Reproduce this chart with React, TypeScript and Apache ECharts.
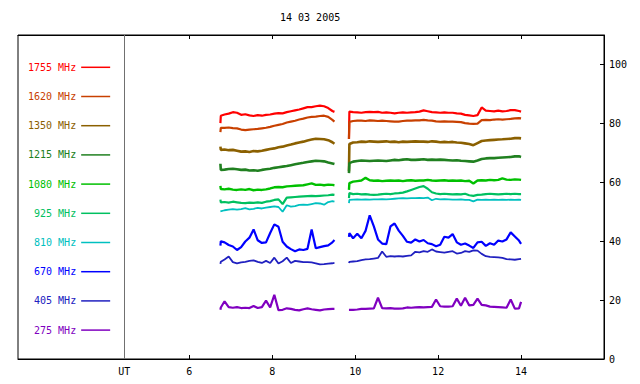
import React, { useEffect, useRef } from "react";
import * as echarts from "echarts";

const FONT = "DejaVu Sans Mono";
const chartTitle = "14 03 2005";
const utLabel = "UT";
const utPosition = 4.434;
const hourTicks = [6, 8, 10, 12, 14];
const valueTicks = [0, 20, 40, 60, 80, 100];

// time (hours UT) of the samples, morning and afternoon segments
const tA = [6.75, 6.76, 6.85, 6.95, 7.05, 7.15, 7.25, 7.35, 7.45, 7.55, 7.65, 7.75, 7.85, 7.95, 8.05, 8.15, 8.25, 8.35, 8.45, 8.55, 8.65, 8.75, 8.85, 8.95, 9.05, 9.15, 9.25, 9.35, 9.45, 9.5];
const gapTime = 9.7;
const tB = [9.85, 9.86, 9.95, 10.05, 10.15, 10.25, 10.35, 10.45, 10.55, 10.65, 10.75, 10.85, 10.95, 11.05, 11.15, 11.25, 11.35, 11.45, 11.55, 11.65, 11.75, 11.85, 11.95, 12.05, 12.15, 12.25, 12.35, 12.45, 12.55, 12.65, 12.75, 12.85, 12.95, 13.05, 13.15, 13.25, 13.35, 13.45, 13.55, 13.65, 13.75, 13.85, 13.95, 14.0];

const freqNames = ["1755 MHz", "1620 MHz", "1350 MHz", "1215 MHz", "1080 MHz", "925 MHz", "810 MHz", "670 MHz", "405 MHz", "275 MHz"];

const f1755A = [80.1, 82.6, 83.0, 83.3, 83.8, 83.6, 82.9, 83.1, 82.7, 82.5,
  82.8, 82.6, 82.9, 83.0, 83.3, 83.5, 83.4, 83.8, 84.1, 84.4,
  84.7, 85.1, 85.5, 85.5, 85.8, 86.0, 85.8, 85.2, 84.2, 83.9];
const f1755B = [74.7, 84.0, 83.8, 83.7, 83.6, 83.8, 83.9, 83.8, 83.9, 83.6,
  83.7, 83.6, 83.4, 83.6, 83.7, 83.6, 83.7, 83.8, 84.0, 84.4,
  84.1, 83.8, 83.7, 83.6, 83.7, 83.6, 83.6, 83.4, 83.3, 82.9,
  82.7, 82.5, 82.8, 85.4, 84.3, 84.2, 84.1, 84.3, 84.1, 84.2,
  84.5, 84.5, 84.2, 84.0];

const f1620A = [77.0, 78.5, 78.5, 78.6, 78.4, 78.3, 77.9, 77.7, 77.9, 78.0,
  78.1, 78.3, 78.5, 78.8, 79.2, 79.5, 79.8, 80.3, 80.6, 80.9,
  81.3, 81.6, 82.0, 82.2, 82.3, 82.5, 82.6, 82.2, 81.2, 80.6];
const f1620B = [74.7, 80.5, 80.8, 80.9, 80.9, 80.8, 81.0, 80.9, 80.8, 80.9,
  80.8, 80.7, 80.6, 80.6, 80.8, 80.9, 80.9, 81.0, 81.0, 81.2,
  81.0, 80.9, 80.7, 80.6, 80.7, 80.6, 80.6, 80.5, 80.4, 80.1,
  79.9, 79.8, 79.9, 81.1, 81.2, 81.1, 81.3, 81.4, 81.3, 81.4,
  81.5, 81.7, 81.8, 81.7];

const f1350A = [72.1, 71.0, 71.1, 70.9, 71.0, 70.7, 70.4, 70.5, 70.3, 70.6,
  70.5, 70.7, 71.0, 71.3, 71.5, 71.9, 72.1, 72.5, 72.8, 73.2,
  73.5, 73.8, 74.2, 74.5, 74.8, 74.7, 74.6, 74.3, 73.6, 73.1];
const f1350B = [63.7, 73.0, 73.5, 73.6, 73.8, 73.7, 73.9, 73.8, 73.7, 73.8,
  73.9, 73.7, 73.8, 73.6, 73.8, 73.7, 73.8, 73.9, 73.8, 73.8,
  73.7, 73.9, 73.8, 73.6, 73.7, 73.6, 73.7, 73.5, 73.4, 73.2,
  73.0, 72.6, 73.3, 74.0, 74.2, 74.3, 74.4, 74.5, 74.6, 74.7,
  74.8, 75.0, 75.0, 74.9];

const f1215A = [66.3, 64.2, 64.3, 64.5, 64.6, 64.4, 64.2, 64.3, 64.0, 64.1,
  63.9, 64.2, 64.4, 64.6, 64.9, 65.1, 65.3, 65.5, 65.8, 66.1,
  66.4, 66.6, 66.9, 67.1, 67.3, 67.2, 67.1, 66.7, 66.4, 66.2];
const f1215B = [63.1, 66.5, 67.0, 67.2, 67.4, 67.3, 67.2, 67.3, 67.4, 67.3,
  67.2, 67.4, 67.6, 67.5, 67.7, 67.8, 67.6, 67.6, 67.7, 67.8,
  67.6, 67.7, 67.6, 67.7, 67.6, 67.5, 67.4, 67.5, 67.3, 67.2,
  67.1, 67.0, 67.4, 67.9, 68.1, 68.2, 68.2, 68.3, 68.4, 68.5,
  68.6, 68.8, 68.8, 68.6];

const f1080A = [58.8, 57.7, 57.6, 57.8, 57.5, 57.4, 57.6, 57.4, 57.7, 57.3,
  57.5, 57.4, 57.6, 57.9, 58.3, 58.4, 58.3, 58.6, 58.7, 58.8,
  58.9, 59.0, 59.3, 59.6, 59.1, 59.2, 59.0, 59.2, 59.1, 59.0];
const f1080B = [57.4, 59.7, 60.2, 60.4, 60.6, 61.5, 60.7, 60.5, 60.6, 60.4,
  60.5, 60.6, 60.5, 60.6, 60.4, 60.6, 60.7, 60.5, 60.6, 60.6,
  60.8, 60.6, 60.5, 60.6, 60.7, 60.5, 60.6, 60.5, 60.6, 60.4,
  60.5, 59.6, 60.6, 60.7, 60.6, 60.8, 60.7, 60.8, 61.3, 60.9,
  60.8, 61.0, 60.9, 60.8];

const f925A = [54.1, 53.2, 53.3, 53.1, 53.4, 53.2, 53.0, 52.9, 53.1, 53.0,
  53.2, 53.0, 53.4, 53.6, 54.0, 54.2, 52.6, 54.8, 54.9, 55.0,
  55.1, 55.2, 55.3, 55.4, 55.3, 55.4, 55.5, 55.6, 55.8, 55.7];
const f925B = [54.6, 56.3, 56.0, 56.1, 55.9, 56.0, 55.8, 55.7, 55.8, 56.0,
  56.1, 56.0, 56.2, 56.3, 56.5, 56.9, 57.4, 57.9, 58.4, 58.7,
  57.8, 56.6, 56.2, 56.0, 56.1, 56.0, 55.9, 56.0, 55.9, 56.1,
  55.6, 55.4, 55.7, 55.8, 56.0, 56.1, 56.0, 55.9, 56.0, 56.1,
  56.0, 56.1, 56.0, 56.0];

const f810A = [50.1, 50.1, 50.5, 50.7, 50.9, 50.7, 50.9, 51.2, 50.8, 51.0,
  51.3, 51.1, 51.4, 51.6, 51.8, 51.6, 50.0, 52.2, 51.7, 51.9,
  52.3, 52.4, 52.3, 52.6, 52.9, 52.8, 52.4, 53.3, 53.6, 53.4];
const f810B = [52.9, 54.0, 54.1, 54.2, 54.1, 54.2, 54.1, 54.2, 54.2, 54.3,
  54.2, 54.3, 54.4, 54.5, 54.6, 54.5, 54.6, 54.6, 54.7, 54.6,
  54.8, 53.9, 54.4, 54.2, 54.3, 54.2, 54.1, 54.1, 54.2, 54.0,
  54.0, 53.5, 54.1, 54.0, 54.1, 54.0, 54.1, 54.0, 54.1, 54.0,
  54.1, 54.0, 54.1, 54.0];

const f670A = [38.5, 40.0, 39.6, 38.7, 38.2, 37.0, 38.0, 39.9, 41.2, 44.0,
  40.3, 39.4, 39.6, 42.8, 45.7, 44.9, 39.8, 38.2, 37.3, 36.6,
  37.2, 37.0, 37.4, 44.0, 37.6, 38.0, 38.3, 38.6, 39.6, 40.4];
const f670B = [41.5, 42.7, 41.0, 42.5, 41.0, 43.5, 48.8, 45.0, 40.6, 39.2,
  39.0, 45.0, 46.0, 43.6, 41.8, 39.8, 39.5, 40.6, 39.9, 40.4,
  39.3, 39.0, 38.3, 38.8, 41.5, 41.2, 42.4, 39.6, 38.8, 39.2,
  38.5, 37.7, 39.6, 39.8, 38.4, 39.3, 38.8, 40.2, 39.9, 40.6,
  43.0, 41.6, 40.2, 39.1];

const f405A = [32.3, 33.0, 33.8, 34.8, 32.9, 32.5, 32.8, 33.0, 33.3, 33.5,
  33.0, 32.6, 33.3, 32.6, 34.4, 32.4, 33.2, 34.4, 32.6, 33.3,
  33.1, 32.9, 32.9, 32.8, 32.5, 32.1, 32.2, 32.4, 32.5, 32.6];
const f405B = [32.6, 33.0, 33.1, 33.2, 33.6, 33.8, 33.9, 34.1, 34.3, 36.5,
  34.7, 34.9, 34.8, 34.9, 34.8, 35.0, 35.2, 36.4, 36.2, 36.6,
  36.4, 37.2, 36.5, 36.3, 36.1, 36.4, 36.6, 35.8, 36.0, 36.6,
  36.4, 36.9, 36.8, 35.7, 34.9, 34.7, 34.6, 34.5, 34.3, 33.9,
  33.8, 33.7, 33.9, 34.0];

const f275A = [16.7, 17.5, 19.6, 17.6, 17.4, 17.6, 17.3, 17.4, 17.3, 18.0,
  17.3, 17.6, 19.8, 17.5, 21.8, 16.6, 16.7, 17.2, 17.0, 16.7,
  16.5, 16.9, 17.2, 16.9, 16.7, 16.5, 16.8, 16.9, 17.0, 17.0];
const f275B = [16.7, 16.8, 16.7, 16.8, 17.0, 17.0, 17.1, 17.2, 20.8, 17.3,
  17.2, 17.3, 17.1, 17.1, 17.2, 17.5, 17.4, 17.5, 17.6, 17.5,
  17.6, 17.7, 20.2, 17.9, 17.8, 17.8, 17.9, 20.5, 18.1, 20.8,
  18.2, 18.4, 20.5, 18.4, 18.2, 17.8, 17.7, 17.6, 17.5, 17.4,
  20.2, 17.1, 17.2, 19.4];

const seriesA = [f1755A, f1620A, f1350A, f1215A, f1080A, f925A, f810A, f670A, f405A, f275A];
const seriesB = [f1755B, f1620B, f1350B, f1215B, f1080B, f925B, f810B, f670B, f405B, f275B];

const COLORS = ["#ff0000", "#c84000", "#8b6000", "#208020", "#00c000", "#00c060", "#00c0c0", "#0000ff", "#2020c0", "#8000c0"];
const WIDTHS = [2.2, 2.2, 2.6, 2.6, 2.4, 2.2, 1.8, 2.2, 1.8, 2.2];

const times = [...tA, gapTime, ...tB];

function buildData(a: number[], b: number[]) {
  const vals: (number | string)[] = [...a, "-", ...b];
  return times.map((t, i) => [t, vals[i]]);
}

export default function App() {
  const ref = useRef<HTMLDivElement>(null);
  useEffect(() => {
    if (!ref.current) return;
    const chart = echarts.init(ref.current, null, { renderer: "svg" });
    const xMin = 1.869;
    const xMax = 16;
    const option: any = {
      animation: false,
      backgroundColor: "#ffffff",
      textStyle: { fontFamily: FONT },
      title: {
        text: chartTitle,
        left: 280,
        top: 12,
        padding: 0,
        textStyle: { fontSize: 10, fontWeight: "normal", color: "#000", fontFamily: FONT },
      },
      legend: {
        orient: "vertical",
        left: 28,
        top: 61.3,
        padding: 0,
        align: "right",
        itemWidth: 29,
        itemHeight: 1.5,
        itemGap: 17.2,
        icon: "rect",
        selectedMode: false,
        data: freqNames.map((n, i) => ({ name: n, textStyle: { color: COLORS[i] } })),
        textStyle: { fontSize: 10, fontFamily: FONT, lineHeight: 12 },
      },
      grid: {
        left: 18,
        right: 36,
        top: 35,
        bottom: 25,
        show: true,
        borderColor: "#000",
        borderWidth: 1,
        backgroundColor: "transparent",
      },
      xAxis: [
        {
          type: "value",
          position: "bottom",
          min: xMin,
          max: xMax,
          axisLine: { show: true, lineStyle: { color: "#000", width: 1 } },
          axisTick: { show: true, inside: true, length: 4, customValues: hourTicks, lineStyle: { color: "#000" } },
          axisLabel: {
            show: true,
            customValues: [utPosition, ...hourTicks],
            formatter: (v: number) => (v < 5 ? utLabel : String(v)),
            margin: 7,
            fontSize: 10,
            fontFamily: FONT,
            color: "#000",
          },
          splitLine: { show: false },
        },
        {
          type: "value",
          position: "top",
          min: xMin,
          max: xMax,
          axisLine: { show: true, lineStyle: { color: "#000", width: 1 } },
          axisTick: { show: true, inside: true, length: 4, customValues: hourTicks, lineStyle: { color: "#000" } },
          axisLabel: { show: false },
          splitLine: { show: false },
        },
      ],
      yAxis: {
        type: "value",
        position: "right",
        min: 0,
        max: 110,
        axisLine: { show: true, lineStyle: { color: "#000", width: 1 } },
        axisTick: { show: true, inside: true, length: 4, customValues: valueTicks, lineStyle: { color: "#000" } },
        axisLabel: { show: true, customValues: valueTicks, margin: 5, fontSize: 10, fontFamily: FONT, color: "#000" },
        splitLine: { show: false },
      },
      series: freqNames.map((name, i) => ({
        type: "line",
        name,
        xAxisIndex: 0,
        data: buildData(seriesA[i], seriesB[i]),
        symbol: "none",
        showSymbol: false,
        silent: true,
        connectNulls: false,
        lineStyle: { color: COLORS[i], width: WIDTHS[i] },
        itemStyle: { color: COLORS[i] },
        emphasis: { disabled: true },
        ...(i === 0
          ? {
              markLine: {
                silent: true,
                symbol: ["none", "none"],
                label: { show: false },
                lineStyle: { color: "#707070", width: 1, type: "solid" },
                data: [{ xAxis: utPosition }],
              },
            }
          : {}),
      })),
    };
    chart.setOption(option);
    return () => chart.dispose();
  }, []);
  return (
    <div
      ref={ref}
      style={{ position: "fixed", left: 0, top: 0, width: 640, height: 384, background: "#fff" }}
    />
  );
}
